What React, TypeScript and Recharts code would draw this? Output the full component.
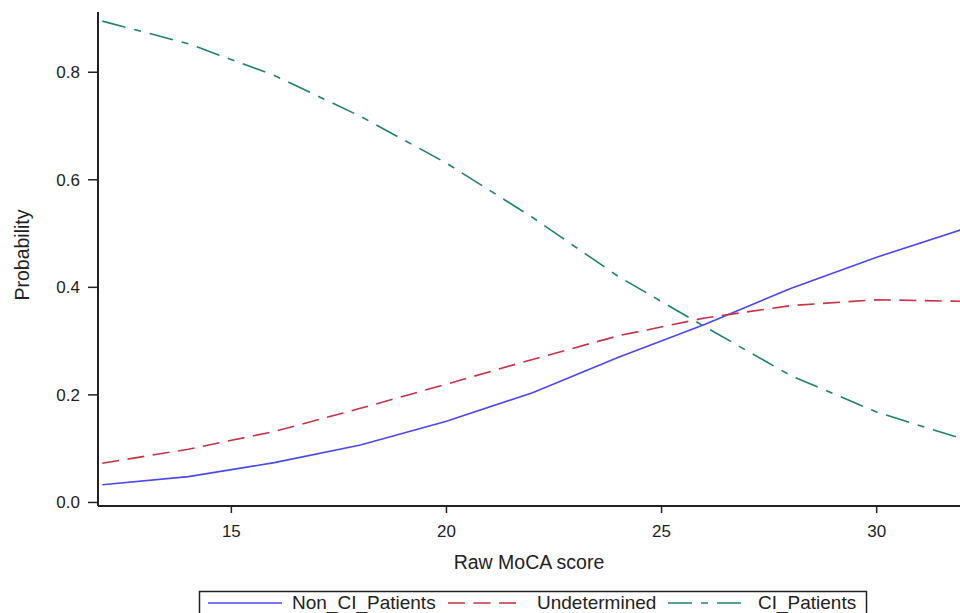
import React from 'react';
import { LineChart, Line, XAxis, YAxis, Label } from 'recharts';

const scores = [12, 14, 16, 18, 20, 22, 24, 26, 28, 30, 32];
const nonCIPatients = [0.033, 0.048, 0.074, 0.107, 0.151, 0.204, 0.27, 0.331, 0.398, 0.456, 0.508];
const undetermined = [0.073, 0.099, 0.132, 0.175, 0.22, 0.266, 0.31, 0.343, 0.366, 0.377, 0.374];
const ciPatients = [0.895, 0.853, 0.794, 0.718, 0.631, 0.53, 0.42, 0.327, 0.236, 0.168, 0.118];

const xTicks = [15, 20, 25, 30];
const yTicks = [0, 0.2, 0.4, 0.6, 0.8];
const seriesNames = ['Non_CI_Patients', 'Undetermined', 'CI_Patients'];
const seriesKeys = ['nonCI', 'undet', 'ci'];
const seriesColors = ['#4a48f2', '#c83244', '#1f8173'];
const seriesDashes = ['', '17 8.5', '24 9 7 9'];

const data = scores.map((s, i) => ({
  score: s,
  nonCI: nonCIPatients[i],
  undet: undetermined[i],
  ci: ciPatients[i],
}));

const FONT = '"Liberation Sans", Arial, sans-serif';
const INK = '#222';

export default function App() {
  return (
    <div style={{ position: 'absolute', left: 0, top: 0, width: 960, height: 613, overflow: 'hidden', background: '#fff' }}>
      <LineChart width={967} height={613} data={data} margin={{ top: 12, right: 0, bottom: 0, left: 0 }}>
        <XAxis
          dataKey="score"
          type="number"
          domain={[11.9, 32.1]}
          allowDataOverflow
          ticks={xTicks}
          height={107}
          tickSize={7}
          tickMargin={12}
          axisLine={{ stroke: INK, strokeWidth: 2 }}
          tickLine={{ stroke: INK, strokeWidth: 1.5 }}
          tick={{ fill: INK, fontSize: 17, fontFamily: FONT }}
        >
          <Label
            content={() => (
              <text x={529} y={562} textAnchor="middle" dominantBaseline="central" fill={INK} fontSize={19.5} fontFamily={FONT}>
                Raw MoCA score
              </text>
            )}
          />
        </XAxis>
        <XAxis
          xAxisId="top"
          orientation="top"
          dataKey="score"
          type="number"
          domain={[11.9, 32.1]}
          allowDataOverflow
          height={0}
          tick={false}
          tickLine={false}
          axisLine={{ stroke: INK, strokeWidth: 2 }}
        />
        <YAxis
          type="number"
          domain={[-0.0066, 0.912]}
          allowDataOverflow
          ticks={yTicks}
          width={98}
          tickSize={10}
          tickMargin={8}
          tickFormatter={(v: number) => v.toFixed(1)}
          axisLine={{ stroke: INK, strokeWidth: 2 }}
          tickLine={{ stroke: INK, strokeWidth: 1.5 }}
          tick={{ fill: INK, fontSize: 17, fontFamily: FONT }}
        >
          <Label
            content={() => (
              <text
                x={22}
                y={255}
                textAnchor="middle"
                dominantBaseline="central"
                transform="rotate(-90, 22, 255)"
                fill={INK}
                fontSize={19.5}
                fontFamily={FONT}
              >
                Probability
              </text>
            )}
          />
        </YAxis>
        {seriesKeys.map((k, i) => (
          <Line
            key={k}
            dataKey={k}
            name={seriesNames[i]}
            type="linear"
            stroke={seriesColors[i]}
            strokeWidth={1.6}
            strokeDasharray={seriesDashes[i] || undefined}
            dot={false}
            activeDot={false}
            isAnimationActive={false}
          />
        ))}
      </LineChart>
      <svg width={960} height={613} style={{ position: 'absolute', left: 0, top: 0, pointerEvents: 'none' }}>
        <rect x={199.5} y={591.5} width={667} height={32} fill="#fff" stroke={INK} strokeWidth={1.5} />
        {[
          { x1: 208, x2: 282, tx: 292 },
          { x1: 448, x2: 523, tx: 537 },
          { x1: 668, x2: 742, tx: 758 },
        ].map((p, i) => (
          <g key={i}>
            <line x1={p.x1} x2={p.x2} y1={603} y2={603} stroke={seriesColors[i]} strokeWidth={1.6} strokeDasharray={seriesDashes[i] || undefined} />
            <text x={p.tx} y={608.5} fill={INK} fontSize={19} fontFamily={FONT}>
              {seriesNames[i]}
            </text>
          </g>
        ))}
      </svg>
    </div>
  );
}
